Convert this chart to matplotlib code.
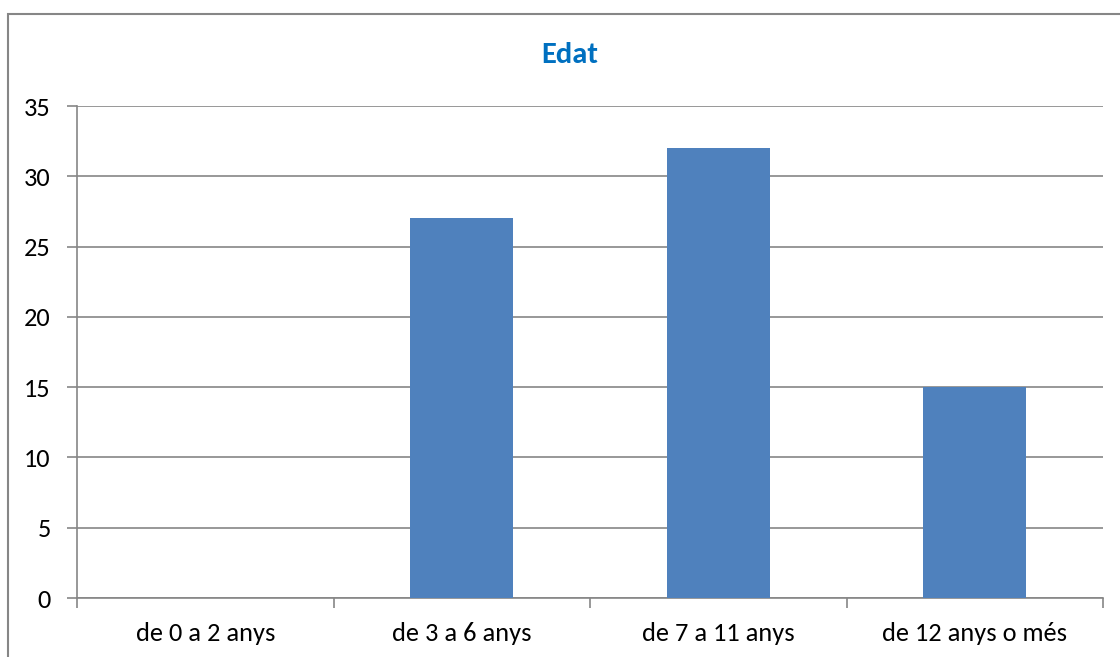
import matplotlib.pyplot as plt
from matplotlib.patches import Rectangle

categories = ["de 0 a 2 anys", "de 3 a 6 anys", "de 7 a 11 anys", "de 12 anys o més"]
values = [0, 27, 32, 15]
yticks = [0, 5, 10, 15, 20, 25, 30, 35]

plt.rcParams['font.family'] = ['Carlito', 'Lato', 'DejaVu Sans']

fig = plt.figure(figsize=(11.2, 6.57), dpi=100)
ax = fig.add_axes([77 / 1120, 1 - 598 / 657, (1103 - 77) / 1120, (598 - 106) / 657])

# outer chart border (only top and left visible in the crop)
fig.patches.append(Rectangle((8 / 1120, -0.1), 1.2, 1 - 14 / 657 + 0.1,
                             transform=fig.transFigure, fill=False,
                             edgecolor='#868686', linewidth=1.5))

x = range(len(categories))
ax.bar(x, values, width=0.4, color='#4F81BD', zorder=3)

ax.set_xlim(-0.5, len(categories) - 0.5)
ax.set_ylim(0, 35)
ax.set_yticks(yticks)
ax.set_yticklabels([str(v) for v in yticks], fontsize=19)
ax.yaxis.grid(True, color='#868686', linewidth=1.2, zorder=0)

ax.set_xticks([i - 0.5 for i in range(len(categories) + 1)])
ax.set_xticklabels([])
ax.set_xticks(list(x), minor=True)
ax.set_xticklabels(categories, minor=True, fontsize=19)
ax.tick_params(axis='x', which='minor', length=0, pad=17)
ax.tick_params(axis='x', which='major', length=7, width=1.2, color='#868686')
ax.tick_params(axis='y', length=7, width=1.2, color='#868686', pad=12)

for side in ['top', 'right']:
    ax.spines[side].set_visible(False)
for side in ['left', 'bottom']:
    ax.spines[side].set_color('#868686')
    ax.spines[side].set_linewidth(1.2)

fig.text(570 / 1120, 1 - 55 / 657, "Edat", ha='center', va='center',
         fontsize=22, fontweight='bold', color='#0070C0')

fig.savefig("out.png", dpi=100)
